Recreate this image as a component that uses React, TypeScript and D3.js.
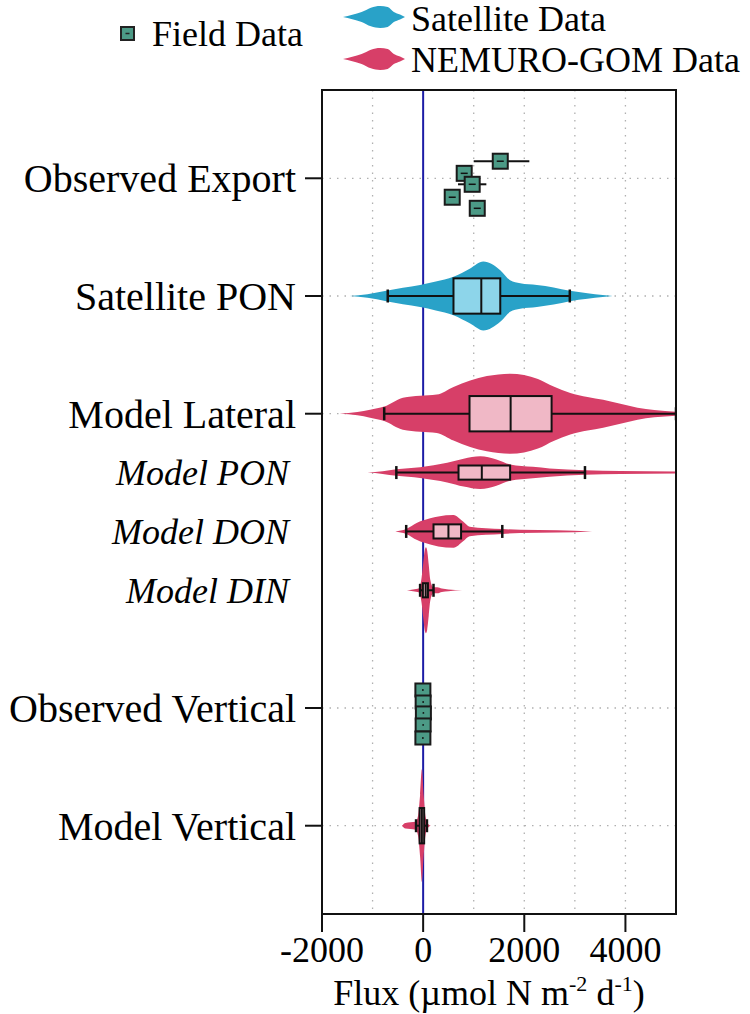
import React from 'react';
import * as d3 from 'd3';

// rows of the chart, top to bottom
const rowNames = ['Observed Export', 'Satellite PON', 'Model Lateral', 'Model PON', 'Model DON', 'Model DIN', 'Observed Vertical', 'Model Vertical'];
const rowPos = [0, 1, 2, 2.5, 3, 3.5, 4.5, 5.5];
const rowItalic = [false, false, false, true, true, true, false, false];

const xTicks = [-2000, 0, 2000, 4000];
const xGrid = [-1000, 1000, 2000, 3000, 4000];

// field data (observed export, with jitter in row units)
const exportVals = [1525, 812, 970, 575, 1070];
const exportJitter = [-0.145, -0.042, 0.051, 0.161, 0.255];
const exportErrLo = [1000, null, 690, null, null];
const exportErrHi = [2100, null, 1250, null, null];

const verticalVals = [-5, 0, 5, 0, -5];
const verticalJitter = [-0.153, -0.051, 0.042, 0.144, 0.255];

// violins: [value, relative density]
const satProfile: [number, number][] = [[-1450, 0], [-1100, 0.05], [-730, 0.15], [-400, 0.24], [-60, 0.32], [250, 0.42], [600, 0.56], [930, 0.8], [1190, 1.0], [1525, 0.75], [1720, 0.46], [1920, 0.37], [2250, 0.32], [2580, 0.25], [2900, 0.15], [3250, 0.08], [3550, 0.03], [3750, 0]];
const lateralProfile: [number, number][] = [[-1650, 0], [-1300, 0.04], [-1050, 0.1], [-770, 0.18], [-400, 0.4], [-60, 0.45], [270, 0.48], [600, 0.67], [930, 0.83], [1260, 0.94], [1720, 1.0], [2270, 0.87], [2580, 0.68], [2910, 0.52], [3250, 0.42], [3560, 0.35], [3900, 0.25], [4240, 0.15], [4570, 0.09], [5000, 0.05]];
const ponProfile: [number, number][] = [[-1100, 0], [-800, 0.08], [-530, 0.2], [-60, 0.33], [475, 0.6], [800, 0.85], [1130, 1.0], [1450, 0.8], [1720, 0.5], [2170, 0.35], [2500, 0.25], [3200, 0.14], [3900, 0.09], [5000, 0.06]];
const donProfile: [number, number][] = [[-550, 0], [-335, 0.15], [-120, 0.53], [140, 0.8], [300, 0.92], [600, 1.0], [790, 0.6], [920, 0.29], [1565, 0.15], [1920, 0.1], [2650, 0.07], [3340, 0]];
const dinProfile: [number, number][] = [[-320, 0], [-200, 0.02], [-80, 0.05], [-30, 0.3], [0, 0.62], [30, 0.92], [55, 1.0], [80, 0.92], [110, 0.6], [140, 0.25], [200, 0.07], [280, 0.07], [370, 0.04], [500, 0.02], [770, 0]];
const vertProfile: [number, number][] = [[-420, 0], [-350, 0.05], [-250, 0.06], [-150, 0.07], [-100, 0.18], [-60, 0.55], [-25, 1.0], [10, 0.55], [50, 0.15], [100, 0.03], [150, 0]];

// box stats: [lower whisker, q1, median, q3, upper whisker]
const satBox = [-700, 600, 1150, 1525, 2900];
const lateralBox = [-770, 917, 1730, 2540, 5000];
const ponBox = [-530, 700, 1160, 1720, 3200];
const donBox = [-335, 205, 500, 750, 1565];
const dinBox = [-60, -5, 50, 95, 205];
const vertBox = [-140, -70, -25, 20, 75];

const SAT = '#29a2c8';
const SAT_BOX = '#8dd5ea';
const MOD = '#d73f68';
const MOD_BOX = '#f0b8c6';
const FIELD = '#4c9a86';

const violins = [
  { row: 1, profile: satProfile, box: satBox, peak: 0.293, half: 0.15, fill: SAT, boxFill: SAT_BOX },
  { row: 2, profile: lateralProfile, box: lateralBox, peak: 0.34, half: 0.15, fill: MOD, boxFill: MOD_BOX },
  { row: 2.5, profile: ponProfile, box: ponBox, peak: 0.139, half: 0.06, fill: MOD, boxFill: MOD_BOX },
  { row: 3, profile: donProfile, box: donBox, peak: 0.139, half: 0.06, fill: MOD, boxFill: MOD_BOX },
  { row: 3.5, profile: dinProfile, box: dinBox, peak: 0.365, half: 0.06, fill: MOD, boxFill: MOD_BOX },
  { row: 5.5, profile: vertProfile, box: vertBox, peak: 0.48, half: 0.15, fill: MOD, boxFill: MOD_BOX },
];

// legend glyph outline (position 0..1, relative width)
const glyphProfile: [number, number][] = [[0, 0], [0.15, 0.2], [0.3, 0.45], [0.45, 0.85], [0.6, 1.0], [0.72, 0.9], [0.82, 0.45], [0.92, 0.22], [1, 0]];

const W = 750;
const H = 1014;
const left = 322;
const right = 676;
const top = 90;
const bottom = 914;

export default function App() {
  const x = d3.scaleLinear().domain([-2000, 5000]).range([left, right]);
  const y = d3.scaleLinear().domain([-0.75, 6.25]).range([top, bottom]);
  const unit = y(1) - y(0);
  const serif = '"Liberation Serif", "Times New Roman", serif';

  const violinPath = (profile: [number, number][], cy: number, peakPx: number) =>
    d3
      .area<[number, number]>()
      .x((d) => x(d[0]))
      .y0((d) => cy - d[1] * peakPx)
      .y1((d) => cy + d[1] * peakPx)
      .curve(d3.curveMonotoneX)(profile) || '';

  const glyph = (x0: number, x1: number, cy: number, hw: number) =>
    d3
      .area<[number, number]>()
      .x((d) => x0 + d[0] * (x1 - x0))
      .y0((d) => cy - d[1] * hw)
      .y1((d) => cy + d[1] * hw)
      .curve(d3.curveMonotoneX)(glyphProfile) || '';

  const mainRows = rowPos.filter((_, i) => !rowItalic[i]);

  return (
    <svg width={W} height={H} style={{ position: 'absolute', left: 0, top: 0, background: '#fff' }} fontFamily={serif}>
      <defs>
        <clipPath id="plotClip">
          <rect x={left} y={top} width={right - left} height={bottom - top} />
        </clipPath>
      </defs>

      {/* legend */}
      <rect x={121} y={27} width={13} height={13} fill={FIELD} stroke="#222" strokeWidth={2} />
      <line x1={125.5} x2={129.5} y1={33.5} y2={33.5} stroke="#222" strokeWidth={1.5} />
      <text x={152} y={46} fontSize={36}>Field Data</text>
      <path d={glyph(343, 405, 17, 11)} fill={SAT} />
      <text x={411} y={31} fontSize={36}>Satellite Data</text>
      <path d={glyph(343, 405, 59, 11)} fill={MOD} />
      <text x={411} y={72} fontSize={36}>NEMURO-GOM Data</text>

      {/* grid */}
      {xGrid.map((v) => (
        <line key={'gx' + v} x1={x(v)} x2={x(v)} y1={top} y2={bottom} stroke="#b0b0b0" strokeWidth={1.3} strokeDasharray="1.5 6" />
      ))}
      {mainRows.map((r) => (
        <line key={'gy' + r} x1={left} x2={right} y1={y(r)} y2={y(r)} stroke="#b0b0b0" strokeWidth={1.3} strokeDasharray="1.5 6" />
      ))}

      {/* zero line */}
      <line x1={x(0)} x2={x(0)} y1={top} y2={bottom} stroke="#1c1ca6" strokeWidth={2} />

      <g clipPath="url(#plotClip)">
        {violins.map((v, i) => (
          <path key={'v' + i} d={violinPath(v.profile, y(v.row), v.peak * unit)} fill={v.fill} />
        ))}
        {violins.map((v, i) => {
          const cy = y(v.row);
          const hb = v.half * unit;
          const [lo, q1, med, q3, hi] = v.box;
          return (
            <g key={'b' + i} stroke="#111" strokeWidth={2}>
              <line x1={x(lo)} x2={x(q1)} y1={cy} y2={cy} />
              <line x1={x(q3)} x2={x(hi)} y1={cy} y2={cy} />
              <line x1={x(lo)} x2={x(lo)} y1={cy - 6.5} y2={cy + 6.5} strokeWidth={2.5} />
              <line x1={x(hi)} x2={x(hi)} y1={cy - 6.5} y2={cy + 6.5} strokeWidth={2.5} />
              <rect x={x(q1)} y={cy - hb} width={x(q3) - x(q1)} height={2 * hb} fill={v.boxFill} />
              <line x1={x(med)} x2={x(med)} y1={cy - hb} y2={cy + hb} />
            </g>
          );
        })}

        {/* observed export */}
        {exportVals.map((v, i) => {
          const cy = y(rowPos[0] + exportJitter[i]);
          const lo = exportErrLo[i];
          const hi = exportErrHi[i];
          return lo !== null && hi !== null ? (
            <line key={'ee' + i} x1={x(lo)} x2={x(hi)} y1={cy} y2={cy} stroke="#111" strokeWidth={2} />
          ) : null;
        })}
        {exportVals.map((v, i) => {
          const cy = y(rowPos[0] + exportJitter[i]);
          return (
            <g key={'ep' + i}>
              <rect x={x(v) - 7.5} y={cy - 7.5} width={15} height={15} fill={FIELD} stroke="#1a1a1a" strokeWidth={2} />
              <line x1={x(v) - 3.5} x2={x(v) + 3.5} y1={cy} y2={cy} stroke="#111" strokeWidth={1.5} />
            </g>
          );
        })}

        {/* observed vertical */}
        {verticalVals.map((v, i) => {
          const cy = y(rowPos[6] + verticalJitter[i]);
          return (
            <g key={'vp' + i}>
              <rect x={x(v) - 7.5} y={cy - 6.5} width={15} height={13} fill={FIELD} stroke="#1a1a1a" strokeWidth={2} />
              <circle cx={x(v)} cy={cy} r={0.9} fill="#111" />
            </g>
          );
        })}
      </g>

      {/* frame */}
      <rect x={left} y={top} width={right - left} height={bottom - top} fill="none" stroke="#111" strokeWidth={2} />

      {/* y axis */}
      {rowNames.map((name, i) => (
        <g key={'yl' + i}>
          {!rowItalic[i] && <line x1={left - 17} x2={left} y1={y(rowPos[i])} y2={y(rowPos[i])} stroke="#111" strokeWidth={2} />}
          <text
            x={rowItalic[i] ? 289 : 296}
            y={y(rowPos[i])}
            dy="0.35em"
            textAnchor="end"
            fontSize={rowItalic[i] ? 36 : 40}
            fontStyle={rowItalic[i] ? 'italic' : 'normal'}
          >
            {name}
          </text>
        </g>
      ))}

      {/* x axis */}
      {xTicks.map((t) => (
        <g key={'xt' + t}>
          <line x1={x(t)} x2={x(t)} y1={bottom} y2={bottom + 18} stroke="#111" strokeWidth={2} />
          <text x={x(t)} y={962} textAnchor="middle" fontSize={36}>{t}</text>
        </g>
      ))}
      <text x={489} y={1005} textAnchor="middle" fontSize={36}>
        Flux (µmol N m<tspan fontSize={22} dy={-14}>-2</tspan>
        <tspan dy={14}> d</tspan>
        <tspan fontSize={22} dy={-14}>-1</tspan>
        <tspan dy={14}>)</tspan>
      </text>
    </svg>
  );
}
